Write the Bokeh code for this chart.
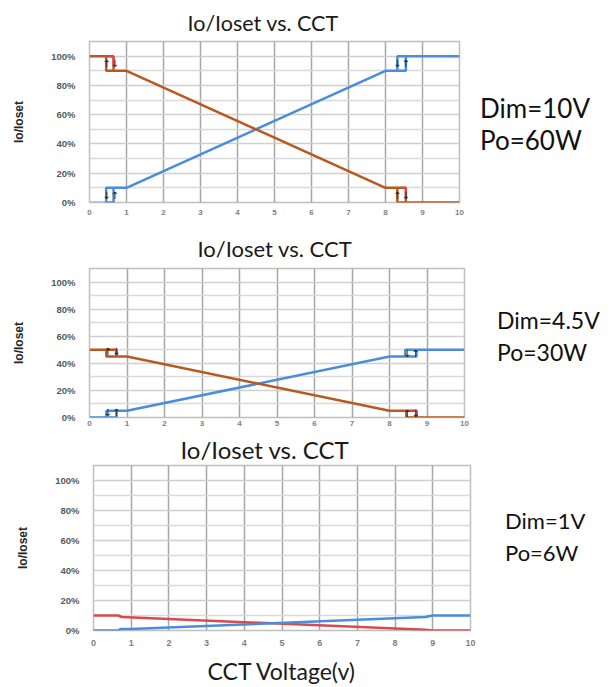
from bokeh.plotting import figure
from bokeh.models import FixedTicker, NumeralTickFormatter, Range1d, Div
from bokeh.layouts import column, row
from bokeh.embed import file_html
from bokeh.resources import INLINE
from bokeh.core.properties import value

nan = float("nan")

# ---------------- data ----------------
x_ticks = list(range(11))
y_major = [0.0, 0.2, 0.4, 0.6, 0.8, 1.0]
y_minor = [0.1, 0.3, 0.5, 0.7, 0.9, 1.1]

title_text = "Io/Ioset vs. CCT"
y_label = "Io/Ioset"
x_label = "CCT Voltage(v)"

# Panel 1: Dim=10V, Po=60W
p1_lightblue_x = [0, 0.45]
p1_lightblue_y = [0, 0]
p1_blue_x = [0.45, 0.45, 0.65, 0.65, 0.45, nan, 0.65, 1.0, 8.0, 8.55, 8.55, 8.32, 8.32, nan, 8.32, 10]
p1_blue_y = [0.0, 0.10, 0.10, 0.0, 0.0, nan, 0.10, 0.10, 0.90, 0.90, 1.0, 1.0, 0.90, nan, 1.0, 1.0]
p1_brown_x = [0, 0.65, 0.65, nan, 0.45, 0.45, 1.0, 8.0, 8.55, 8.55, nan, 8.32, 8.32, 10]
p1_brown_y = [1.0, 1.0, 0.90, nan, 1.0, 0.90, 0.90, 0.10, 0.10, 0.0, nan, 0.10, 0.0, 0.0]
p1_red_x = [0.52, 0.65, 0.65, nan, 8.42, 8.55, 8.55]
p1_red_y = [1.0, 1.0, 0.93, nan, 0.10, 0.10, 0.03]
p1_arrow_x = [0.57, 0.57, 8.43, 8.43]
p1_arrow_y = [0.95, 0.05, 0.95, 0.05]
p1_arrow_t = ["↑↓", "↓↑", "↓↑", "↑↓"]
p1_info = ["Dim=10V", "Po=60W"]

# Panel 2: Dim=4.5V, Po=30W
p2_blue_x = [0, 0.72, 0.72, 1.0, 8.0, 8.72, 8.72, nan, 0.45, 0.45, 0.72, nan, 8.42, 8.42, 10]
p2_blue_y = [0, 0, 0.05, 0.05, 0.45, 0.45, 0.50, nan, 0, 0.05, 0.05, nan, 0.45, 0.50, 0.50]
p2_brown_x = [0, 0.72, 0.72, nan, 0.45, 0.45, 1.0, 8.0, 8.72, 8.72, nan, 8.45, 8.45, 10]
p2_brown_y = [0.50, 0.50, 0.45, nan, 0.50, 0.45, 0.45, 0.05, 0.05, 0.0, nan, 0.05, 0.0, 0.0]
p2_red_x = [0.62, 0.72, 0.72, nan, 8.6, 8.72, 8.72]
p2_red_y = [0.50, 0.50, 0.46, nan, 0.05, 0.05, 0.01]
p2_arrow_x = [0.6, 0.6, 8.58, 8.58]
p2_arrow_y = [0.485, 0.035, 0.47, 0.03]
p2_arrow_t = ["↑↓", "↓↑", "↓↑", "↑↓"]
p2_info = ["Dim=4.5V", "Po=30W"]

# Panel 3: Dim=1V, Po=6W
p3_red_x = [0, 0.65, 0.75, 8.8, 9.0, 10]
p3_red_y = [0.10, 0.10, 0.09, 0.005, 0.0, 0.0]
p3_blue_x = [0, 0.7, 0.7, 1.0, 8.8, 9.0, 10]
p3_blue_y = [0.0, 0.0, 0.01, 0.01, 0.09, 0.10, 0.10]
p3_info = ["Dim=1V", "Po=6W"]

BLUE = "#4a8ddc"
LIGHTBLUE = "#9cc3e8"
BROWN = "#b9591d"
RED = "#d94a4f"
PINK = "#e0405a"

CAL = "Lato"
TICKF = "Liberation Sans"


def make_fig(fw, fh, top, bottom, left, xtick_size, xstand,
             title_size, title_offset, title_standoff, title_valign="bottom"):
    p = figure(frame_width=fw, frame_height=fh, x_range=Range1d(0, 10), y_range=Range1d(0, 1.1),
               output_backend="svg", toolbar_location=None,
               min_border_left=left, min_border_right=8,
               min_border_top=top, min_border_bottom=bottom,
               title=title_text)
    p.title.align = "left"
    p.title.vertical_align = title_valign
    p.title.offset = title_offset
    p.title.standoff = title_standoff
    p.title.text_font = CAL
    p.title.text_font_style = "normal"
    p.title.text_font_size = title_size
    p.title.text_color = "#1a1a1a"

    p.background_fill_color = "white"
    p.border_fill_color = "white"
    p.outline_line_color = "#bfbfbf"
    p.outline_line_width = 1.5

    p.xaxis.ticker = FixedTicker(ticks=x_ticks)
    p.xaxis.major_tick_line_color = None
    p.xaxis.major_tick_out = 0
    p.xaxis.major_tick_in = 0
    p.xaxis.minor_tick_line_color = None
    p.xaxis.axis_line_color = None
    p.xaxis.major_label_text_font = TICKF
    p.xaxis.major_label_text_font_style = "bold"
    p.xaxis.major_label_text_font_size = xtick_size
    p.xaxis.major_label_text_color = "#7f7f7f"
    p.xaxis.major_label_standoff = xstand

    p.yaxis.ticker = FixedTicker(ticks=y_major, minor_ticks=y_minor)
    p.yaxis.formatter = NumeralTickFormatter(format="0%")
    p.yaxis.major_tick_line_color = None
    p.yaxis.major_tick_out = 0
    p.yaxis.major_tick_in = 0
    p.yaxis.minor_tick_line_color = None
    p.yaxis.axis_line_color = None
    p.yaxis.major_label_text_font = TICKF
    p.yaxis.major_label_text_font_style = "bold"
    p.yaxis.major_label_text_font_size = "9.5px"
    p.yaxis.major_label_text_color = "#595959"
    p.yaxis.major_label_standoff = 10
    p.yaxis.axis_label = y_label
    p.yaxis.axis_label_text_font = TICKF
    p.yaxis.axis_label_text_font_style = "bold"
    p.yaxis.axis_label_text_font_size = "12px"
    p.yaxis.axis_label_text_color = "#262626"
    p.yaxis.axis_label_standoff = 22

    p.xgrid.grid_line_color = "#a6a6a6"
    p.xgrid.grid_line_width = 1.5
    p.ygrid.grid_line_color = "#cfcfcf"
    p.ygrid.grid_line_width = 1.5
    p.ygrid.minor_grid_line_color = "#d9d9d9"
    p.ygrid.minor_grid_line_width = 1.5
    return p


def info_div(info, width, height, pad_left, pad_top, size):
    html = ('<div style="font-family:Lato;font-size:%dpx;line-height:32px;color:#111;'
            'padding-left:%dpx;padding-top:%dpx;white-space:nowrap">%s<br>%s</div>'
            % (size, pad_left, pad_top, info[0], info[1]))
    return Div(text=html, width=width, height=height, margin=(0, 0, 0, 0))


# Panel 1  (page y 0..226)
p1 = make_fig(370, 161, 41, 24, 89, "8px", 7, "21.5px", 98, 12)
p1.line(p1_lightblue_x, p1_lightblue_y, color=LIGHTBLUE, line_width=2.5)
p1.line(p1_blue_x, p1_blue_y, color=BLUE, line_width=2.5)
p1.line(p1_brown_x, p1_brown_y, color=BROWN, line_width=2.5)
p1.line(p1_red_x, p1_red_y, color=PINK, line_width=2)
p1.text(p1_arrow_x, p1_arrow_y, text=p1_arrow_t, text_font=value("DejaVu Sans"),
        text_font_size="10px", text_align="center", text_baseline="middle", text_color="#222222")
d1 = info_div(p1_info, 148, 226, 13, 92, 26)

# Panel 2  (page y 226..431)
p2 = make_fig(375, 149, 42, 14, 89, "8px", 3, "22px", 108, 13)
p2.line(p2_blue_x, p2_blue_y, color=BLUE, line_width=2.5)
p2.line(p2_brown_x, p2_brown_y, color=BROWN, line_width=2.5)
p2.line(p2_red_x, p2_red_y, color=PINK, line_width=2)
p2.text(p2_arrow_x, p2_arrow_y, text=p2_arrow_t, text_font=value("DejaVu Sans"),
        text_font_size="10px", text_align="center", text_baseline="middle", text_color="#222222")
d2 = info_div(p2_info, 143, 205, 25, 78, 23)

# Panel 3  (page y 431..)
p3 = make_fig(377, 165, 34, 60, 93, "9px", 9, "24px", 87, 0, "top")
p3.line(p3_red_x, p3_red_y, color=RED, line_width=2.5)
p3.line(p3_blue_x, p3_blue_y, color=BLUE, line_width=2.5)
p3.xaxis.axis_label = x_label
p3.xaxis.axis_label_text_font = CAL
p3.xaxis.axis_label_text_font_style = "normal"
p3.xaxis.axis_label_text_font_size = "23px"
p3.xaxis.axis_label_text_color = "#1a1a1a"
p3.xaxis.axis_label_standoff = 8
d3 = info_div(p3_info, 137, 259, 27, 74, 22)

layout = column(row(p1, d1, spacing=0), row(p2, d2, spacing=0), row(p3, d3, spacing=0), spacing=0)
open("out.html", "w").write(file_html(layout, INLINE))
